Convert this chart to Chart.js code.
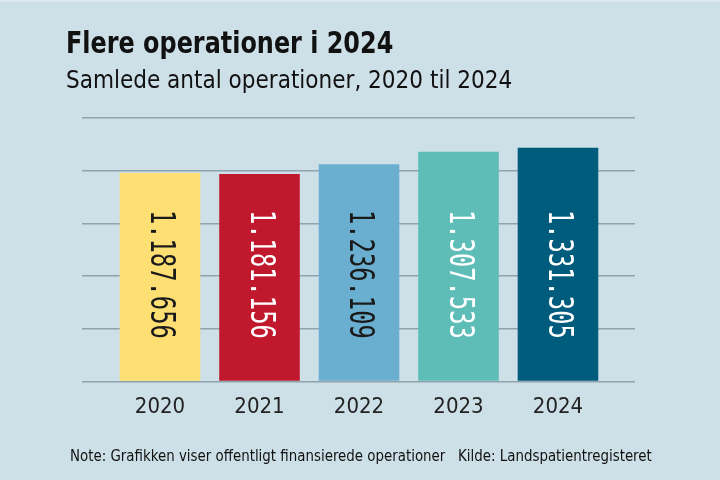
<!DOCTYPE html>
<html>
<head>
<meta charset="utf-8">
<script src="https://cdn.jsdelivr.net/npm/chart.js@4/dist/chart.umd.min.js"></script>
<style>
  html, body { margin: 0; padding: 0; background: #cddfe7; }
  #wrap { width: 720px; height: 480px; }
</style>
</head>
<body>
<div id="wrap"><canvas id="myChart"></canvas></div>
<script>
const years = [2020, 2021, 2022, 2023, 2024];
const operations = [1187656, 1181156, 1236109, 1307533, 1331305];
const barColors = ["#fedf73", "#c0192e", "#6aafcf", "#5fbdb8", "#005c7c"];
const labelColors = ["#1a1a1a", "#ffffff", "#1a1a1a", "#ffffff", "#ffffff"];
const yTicks = [0, 300000, 600000, 900000, 1200000, 1500000];

const narrow = '"Liberation Sans Narrow", "DejaVu Sans Condensed", sans-serif';

// tal med punktum som tusindtalsseparator
const fmt = (v) => String(v).replace(/\B(?=(\d{3})+(?!\d))/g, ".");

function squeezedText(c, text, x, y, font, sx) {
    c.save();
    c.translate(x, y);
    c.scale(sx, 1);
    c.font = font;
    c.fillText(text, 0, 0);
    c.restore();
}

const textPlugin = {
    id: "texts",
    beforeDraw(chart) {
        const c = chart.ctx;
        c.save();
        c.fillStyle = "#cddfe7";
        c.fillRect(0, 0, chart.width, chart.height);
        c.fillStyle = "#dbe9ef";
        c.fillRect(0, 0, chart.width, 2);
        c.restore();
    },
    afterDraw(chart) {
        const c = chart.ctx;
        c.save();
        c.fillStyle = "#111111";
        c.textBaseline = "alphabetic";
        squeezedText(c, "Flere operationer i 2024", 66, 53, "bold 30px " + narrow, 0.886);
        squeezedText(c, "Samlede antal operationer, 2020 til 2024", 66, 88, "24px " + narrow, 1);
        squeezedText(c, "Note: Grafikken viser offentligt finansierede operationer   Kilde: Landspatientregisteret",
            70, 461, "16px " + narrow, 0.93);

        // værdier, drejet 90 grader inde i søjlerne
        const meta = chart.getDatasetMeta(0);
        meta.data.forEach((bar, i) => {
            c.save();
            c.translate(bar.x, chart.chartArea.top + 92);
            c.rotate(Math.PI / 2);
            c.scale(0.72, 1);
            c.font = "33px 'DejaVu Sans Mono', monospace";
            c.fillStyle = labelColors[i];
            c.textAlign = "left";
            c.textBaseline = "middle";
            c.fillText(fmt(operations[i]), 0, 0);
            c.restore();
        });
        c.restore();
    },
};

const ctx = document.getElementById("myChart").getContext("2d");
const myChart = new Chart(ctx, {
    type: "bar",
    data: {
        datasets: [
            {
                data: years.map((y, i) => ({ x: y, y: operations[i] })),
                backgroundColor: barColors,
                borderWidth: 0,
                barPercentage: 0.9,
                categoryPercentage: 0.9,
            },
        ],
    },
    options: {
        responsive: true,
        maintainAspectRatio: false,
        animation: false,
        layout: {
            padding: { top: 118, left: 82, right: 85, bottom: 56 },
        },
        plugins: {
            legend: { display: false },
            tooltip: { enabled: false },
        },
        scales: {
            x: {
                type: "linear",
                bounds: "data",
                offset: false,
                min: 2019.216,
                max: 2024.774,
                afterBuildTicks: (axis) => {
                    axis.ticks = years.map((v) => ({ value: v }));
                },
                grid: { display: false },
                border: { display: false },
                ticks: {
                    maxRotation: 0,
                    autoSkip: false,
                    padding: 4,
                    color: "#222222",
                    font: { family: narrow, size: 22 },
                    callback: (v) => String(v),
                },
            },
            y: {
                min: 0,
                max: 1500000,
                afterBuildTicks: (axis) => {
                    axis.ticks = yTicks.map((v) => ({ value: v }));
                },
                ticks: { display: false },
                border: { display: false },
                grid: { color: "#8fa3ad", lineWidth: 1.5, drawTicks: false },
            },
        },
    },
    plugins: [textPlugin],
});
</script>
</body>
</html>
